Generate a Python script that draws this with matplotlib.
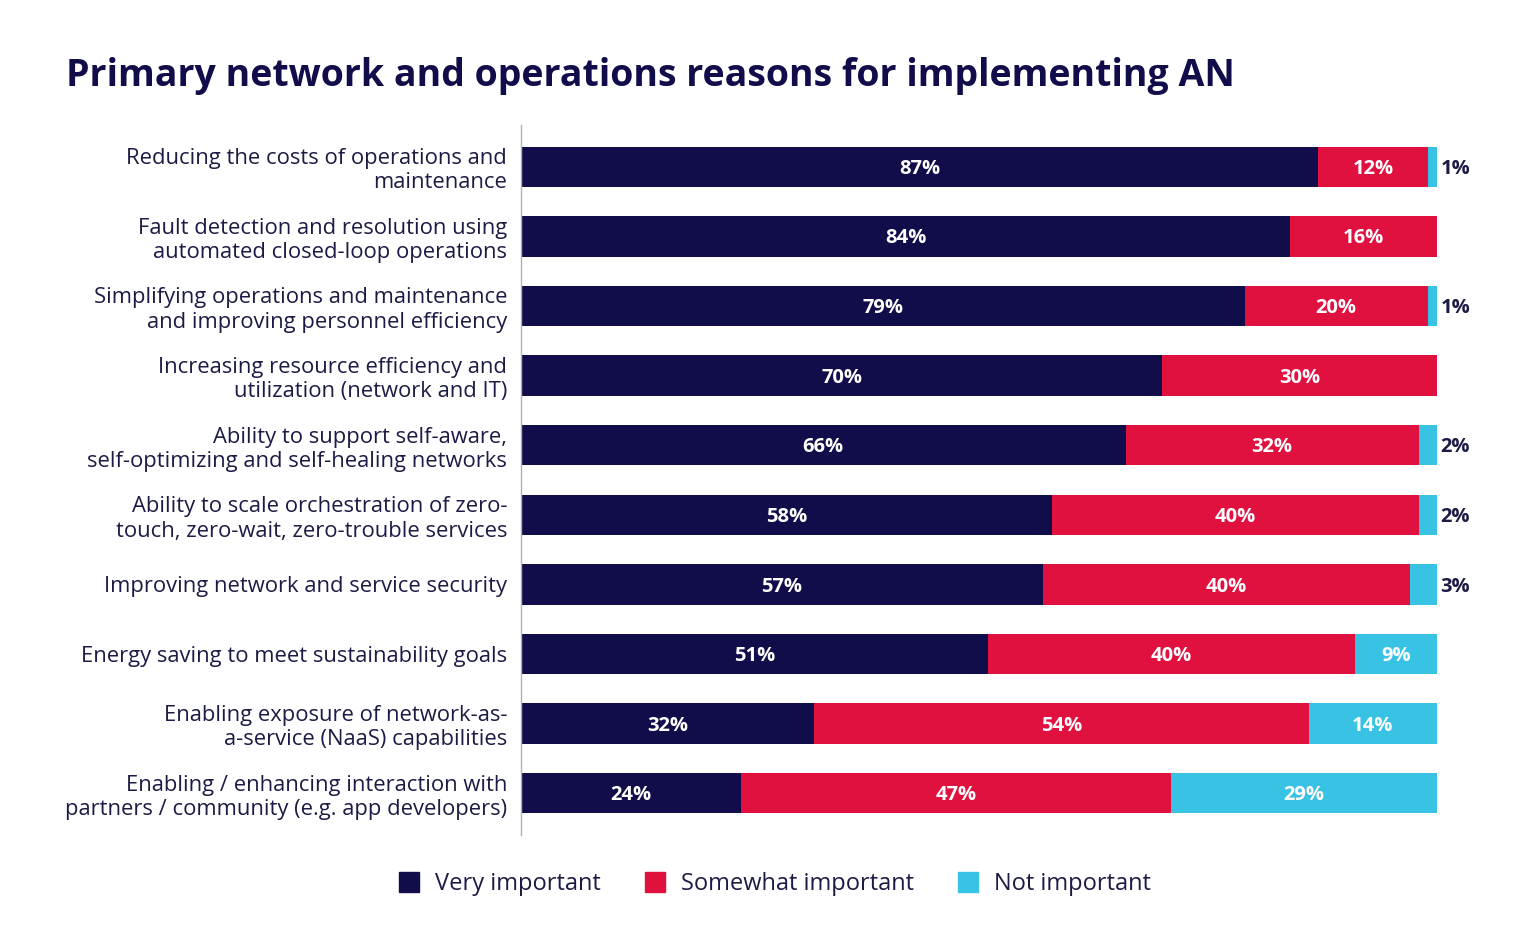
import matplotlib
matplotlib.use('Agg')
import matplotlib.pyplot as plt
from matplotlib.lines import Line2D
import numpy as np

plt.rcParams['font.family'] = ['Open Sans', 'DejaVu Sans']

# data
reasons = [
    "Reducing the costs of operations and\nmaintenance",
    "Fault detection and resolution using\nautomated closed-loop operations",
    "Simplifying operations and maintenance\nand improving personnel efficiency",
    "Increasing resource efficiency and\nutilization (network and IT)",
    "Ability to support self-aware,\nself-optimizing and self-healing networks",
    "Ability to scale orchestration of zero-\ntouch, zero-wait, zero-trouble services",
    "Improving network and service security",
    "Energy saving to meet sustainability goals",
    "Enabling exposure of network-as-\na-service (NaaS) capabilities",
    "Enabling / enhancing interaction with\npartners / community (e.g. app developers)",
]
very_important = [87, 84, 79, 70, 66, 58, 57, 51, 32, 24]
somewhat_important = [12, 16, 20, 30, 32, 40, 40, 40, 54, 47]
not_important = [1, 0, 1, 0, 2, 2, 3, 9, 14, 29]
series_names = ["Very important", "Somewhat important", "Not important"]

NAVY = '#100d4a'
RED = '#e0103f'
CYAN = '#38c3e4'
TEXT = '#1c1b45'
colors = [NAVY, RED, CYAN]

fig = plt.figure(figsize=(15.4, 9.4), dpi=100)
ax = fig.add_axes([521 / 1540, 1 - 835 / 940, 916 / 1540, 710 / 940])

y = np.arange(len(reasons))
left = np.zeros(len(reasons))
for vals, col in zip([very_important, somewhat_important, not_important], colors):
    vals = np.array(vals, dtype=float)
    ax.barh(y, vals, left=left, height=0.58, color=col, edgecolor='none')
    for yi, (l, v) in enumerate(zip(left, vals)):
        if v == 0:
            continue
        if v >= 5:
            ax.text(l + v / 2, yi + 0.03, f"{int(v)}%", ha='center', va='center',
                    color='white', fontsize=14.5, fontweight='bold')
        else:
            ax.text(100.4, yi + 0.03, f"{int(v)}%", ha='left', va='center',
                    color=TEXT, fontsize=14.5, fontweight='bold')
    left += vals

ax.set_xlim(0, 100)
ax.set_ylim(9.6, -0.6)
ax.set_yticks(y)
ax.set_yticklabels(reasons, fontsize=15.8, color=TEXT, linespacing=1.2)
ax.tick_params(axis='y', length=0, pad=10)
ax.set_xticks([])
for side in ['top', 'right', 'bottom']:
    ax.spines[side].set_visible(False)
ax.spines['left'].set_color('#b0b0b8')
ax.spines['left'].set_linewidth(1)

fig.text(66 / 1540, 1 - 76 / 940, "Primary network and operations reasons for implementing AN",
         ha='left', va='center', fontsize=27, fontweight='bold', color=NAVY)

handles = [Line2D([0], [0], marker='s', linestyle='none', markersize=15,
                  markerfacecolor=c, markeredgecolor=c) for c in colors]
fig.legend(handles, series_names, loc='center', bbox_to_anchor=(0.499, 1 - 884 / 940),
           ncol=3, frameon=False, fontsize=17, handletextpad=0.1, columnspacing=1.3,
           labelcolor=TEXT)

fig.savefig('out.png', dpi=100, facecolor='white')
